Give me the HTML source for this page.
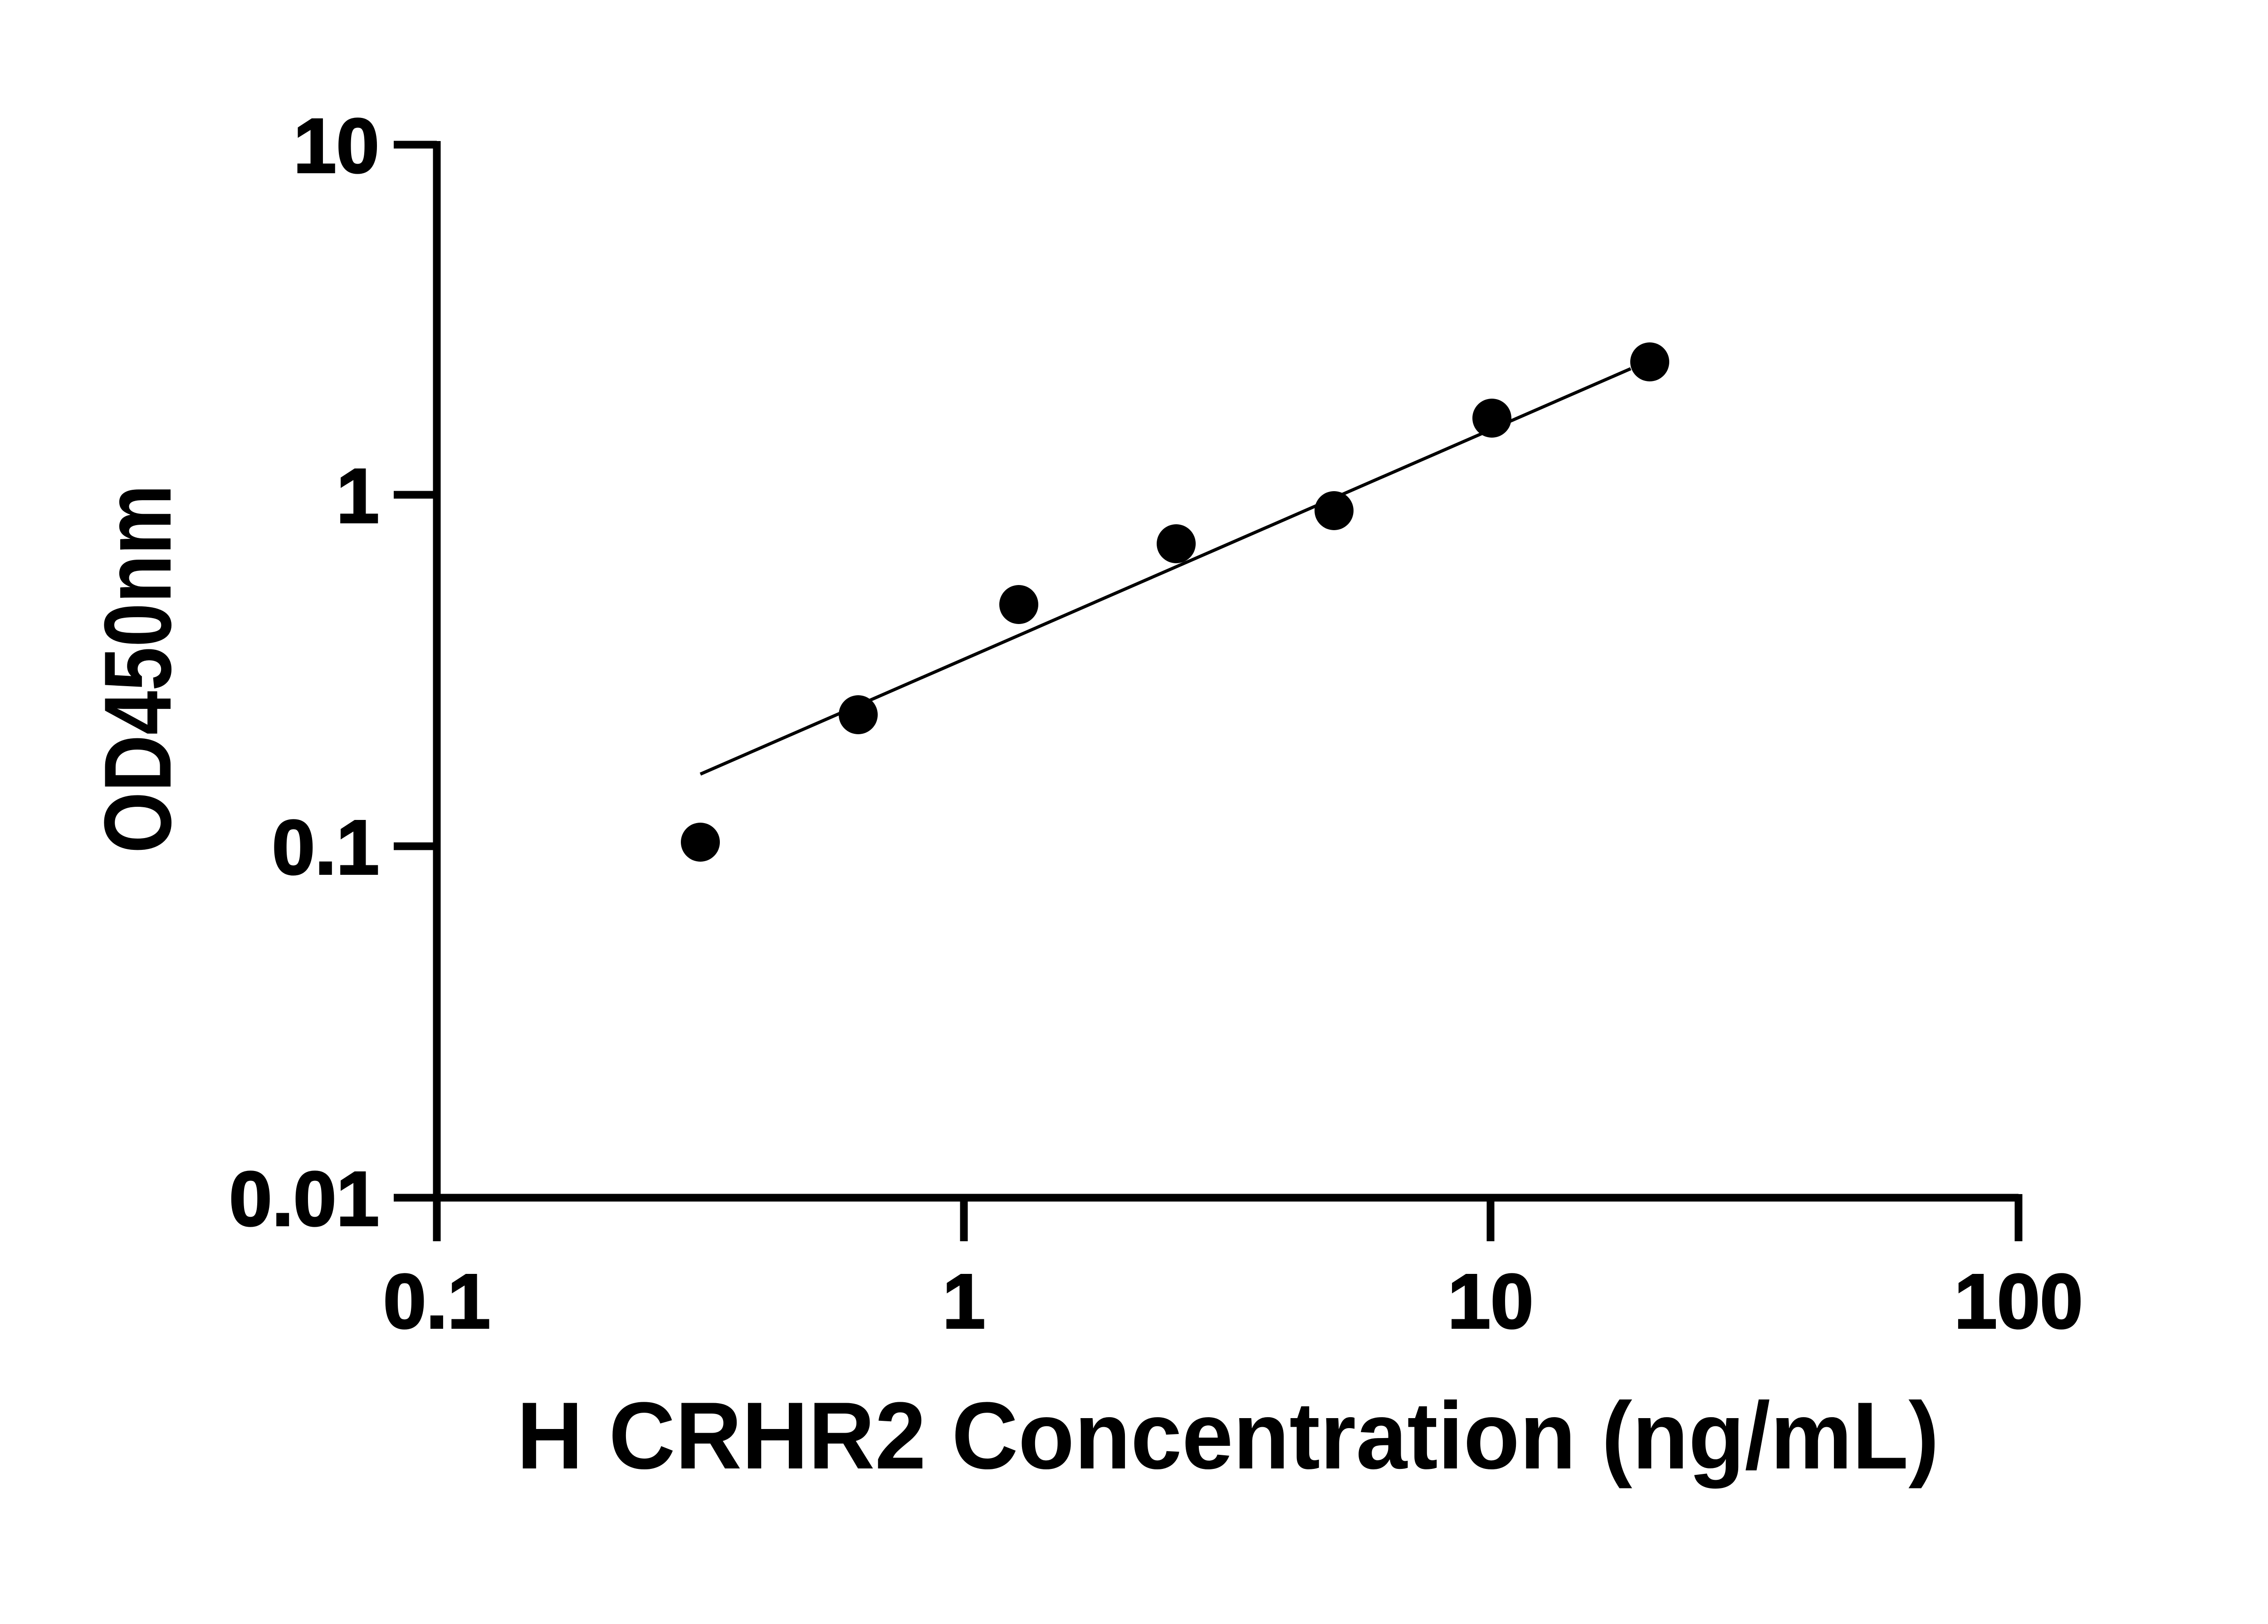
<!DOCTYPE html>
<html><head><style>html,body{margin:0;padding:0;background:#fff}</style></head>
<body>
<svg width="5170" height="3576" viewBox="0 0 5170 3576" xmlns="http://www.w3.org/2000/svg" font-family="Liberation Sans, Arial, sans-serif" font-weight="bold">
<rect width="5170" height="3576" fill="#fff"/>
<g stroke="#000" stroke-width="17" fill="none">
<line x1="963" y1="311" x2="963" y2="2737"/>
<line x1="955" y1="2641" x2="4450" y2="2641"/>
<line x1="868" y1="319" x2="963" y2="319"/>
<line x1="868" y1="1091" x2="963" y2="1091"/>
<line x1="868" y1="1866" x2="963" y2="1866"/>
<line x1="868" y1="2641" x2="963" y2="2641"/>
<line x1="2125" y1="2641" x2="2125" y2="2737"/>
<line x1="3286" y1="2641" x2="3286" y2="2737"/>
<line x1="4450" y1="2633" x2="4450" y2="2737"/>
</g>
<g font-size="170" text-anchor="end" stroke="#000" stroke-width="4">
<text x="836" y="380">10</text>
<text x="836" y="1152">1</text>
<text x="836" y="1927">0.1</text>
<text x="836" y="2702">0.01</text>
</g>
<g font-size="170" text-anchor="middle" stroke="#000" stroke-width="4">
<text x="963" y="2928">0.1</text>
<text x="2125" y="2928">1</text>
<text x="3286" y="2928">10</text>
<text x="4450" y="2928">100</text>
</g>
<text x="2707" y="3238" font-size="210" text-anchor="middle" textLength="3136" lengthAdjust="spacingAndGlyphs">H CRHR2 Concentration (ng/mL)</text>
<text transform="translate(376,1475) rotate(-90)" font-size="210" text-anchor="middle" textLength="813" lengthAdjust="spacingAndGlyphs">OD450nm</text>
<line x1="1544" y1="1707" x2="3595" y2="813" stroke="#000" stroke-width="7"/>
<g fill="#000">
<circle cx="1544" cy="1857" r="43"/>
<circle cx="1892" cy="1576" r="43"/>
<circle cx="2246" cy="1333" r="43"/>
<circle cx="2593" cy="1199" r="43"/>
<circle cx="2941" cy="1126" r="43"/>
<circle cx="3289" cy="922" r="43"/>
<circle cx="3637" cy="798" r="43"/>
</g>
</svg>
</body></html>
